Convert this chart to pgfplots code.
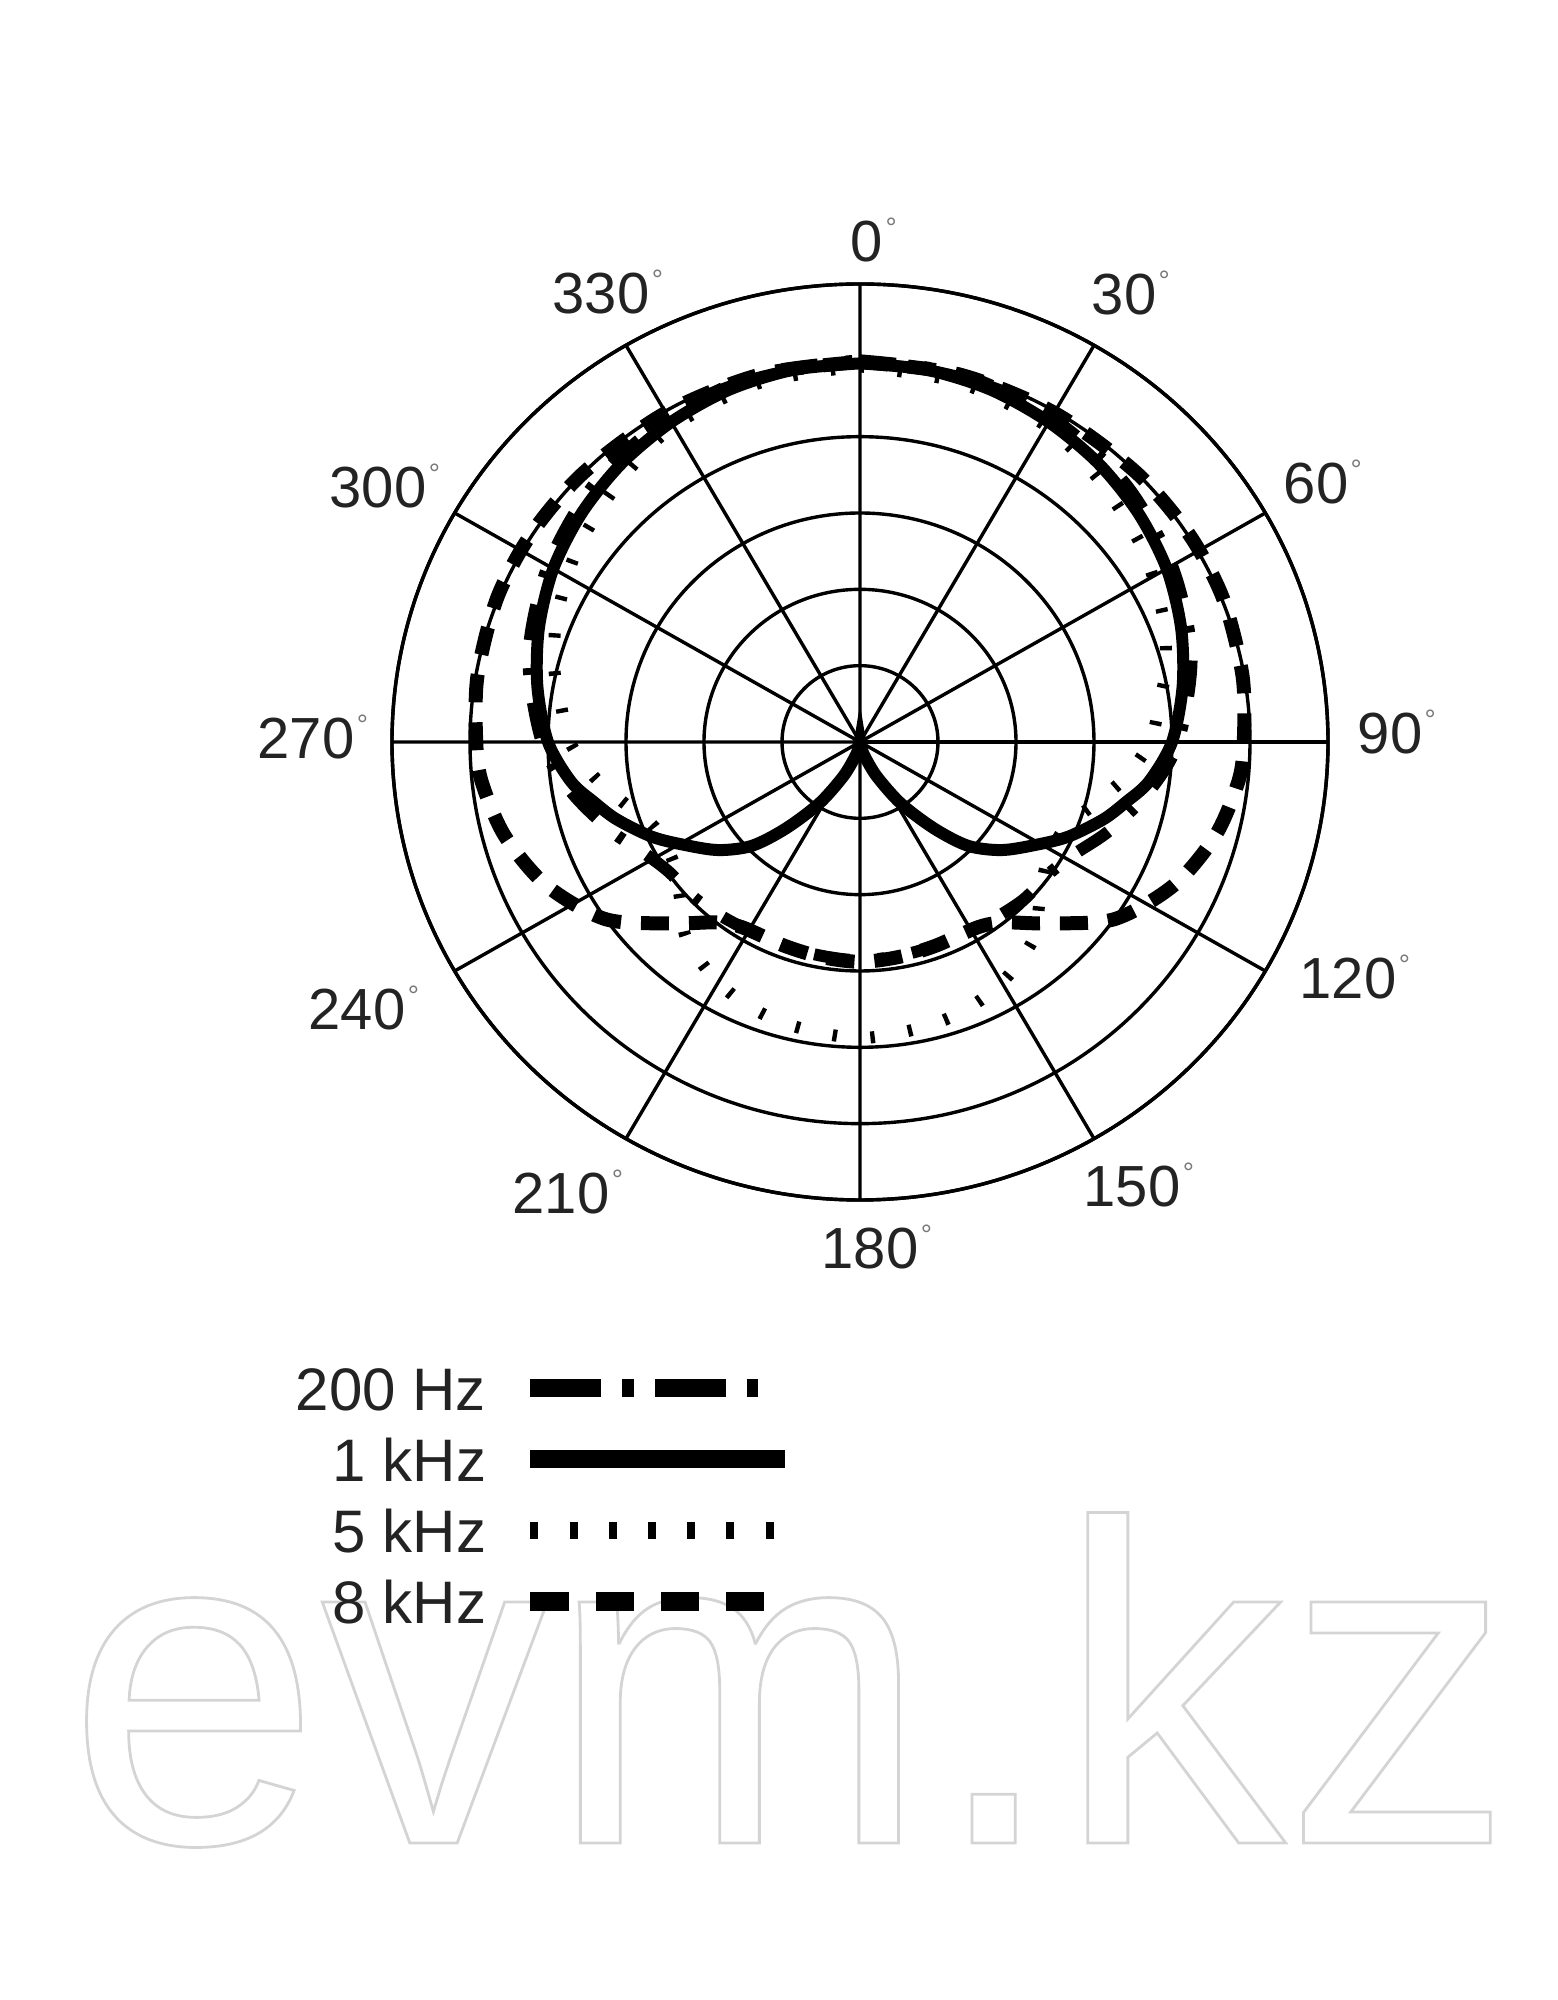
\documentclass[border=0pt]{standalone}
\usepackage{pgfplots}
\pgfplotsset{compat=1.18}
\usepgfplotslibrary{polar}
\usepackage{fontspec}
\setmainfont{Liberation Sans}
\definecolor{labelgray}{RGB}{35,35,35}
\definecolor{deggray}{RGB}{120,120,120}
\definecolor{wmgray}{RGB}{212,212,212}
\newcommand{\lbl}[1]{#1\rlap{\hspace{0.6pt}\raisebox{6pt}{\fontsize{7}{7}\selectfont\color{deggray}°}}}
\newcommand{\outl}[1]{\special{pdf:literal direct 1 Tr 0.7 w}#1\special{pdf:literal direct 0 Tr}}
\begin{document}
\begin{tikzpicture}
% watermark (two pieces, same line)
\node[anchor=base west, inner sep=0pt, text=wmgray, font=\fontsize{114}{114}\selectfont] (wm1) at (16.6pt,39.25pt)
  {\outl{evm}};
\node[anchor=base west, inner sep=0pt, text=wmgray, font=\fontsize{114}{114}\selectfont] at (wm1.base east)
  {\outl{.kz}};
\begin{polaraxis}[
  at={(215pt,314.5pt)}, anchor=center,
  scale only axis, width=234pt, height=229pt,
  ymin=0, ymax=30, xmin=0, xmax=360,
  xtick={0,30,...,330}, ytick={5,10,...,30},
  xticklabels={}, yticklabels={},
  major tick length=0pt,
  grid=major,
  major grid style={black, line width=0.85pt, solid},
  axis line style={black, line width=0.85pt},
  x filter/.expression={x<=90 ? 90-x : 450-x},
  clip=false,
  reverse legend,
  legend plot pos=right,
  legend cell align=right,
  legend style={at={(-0.1026,-0.1769)}, anchor=north west, draw=none, fill=none,
    inner sep=0pt, outer sep=0pt, column sep=8.8pt, row sep=0pt,
    font=\fontsize{15}{15}\selectfont, text=labelgray,
    nodes={inner sep=0pt, text height=12pt, text depth=5.75pt}},
]
% 8 kHz
\addplot[black, line width=3.5pt, dash pattern=on 7pt off 5pt, smooth, no markers,
  legend image code/.code={\draw[black,line width=4.6pt,dash pattern=on 9.6pt off 6.7pt] (0pt,2.3pt)--(58.5pt,2.3pt);}]
table {
a r
0 24.9
15 24.9
30 24.9
45 25.0
57 25.1
68 25.1
80 24.9
90 24.6
96 24.4
105 23.6
115 22.2
125.5 20.0
135 16.8
142 15.0
148 14.3
160 14.2
170 14.3
180 14.4
190 14.3
200 14.2
212 14.3
218 15.0
225 16.8
234.5 20.0
245 22.2
255 23.6
264 24.4
270 24.6
280 24.9
292 25.1
303 25.1
315 25.0
330 24.9
345 24.9
360 24.9
};
\addlegendentry{8 kHz}
% 5 kHz
\addplot[black, line width=3pt, dash pattern=on 1.1pt off 8.4pt, smooth, no markers,
  legend image code/.code={\draw[black,line width=4.2pt,dash pattern=on 2pt off 7.8pt] (0pt,2.3pt)--(60.8pt,2.3pt);}]
table {
a r
0 24.6
15 24.4
30 23.9
42 23.0
55 22.1
67 21.1
76 20.2
83 19.3
90 18.6
97.6 17.2
105 15.6
113 14.3
123 14.3
132 15.5
139 17.0
148 18.0
155.6 18.6
163.5 19.0
171.5 19.2
180 19.4
188.5 19.2
196.5 19.0
204.4 18.6
212 18.0
221 17.0
228 15.5
237 14.3
247 14.3
255 15.6
262.4 17.2
270 18.6
277 19.3
284 20.2
293 21.1
305 22.1
318 23.0
330 23.9
345 24.4
360 24.6
};
\addlegendentry{5 kHz}
% 1 kHz
\addplot[black, line width=3pt, smooth, no markers,
  legend image code/.code={\draw[black,line width=4.5pt] (0pt,2.3pt)--(63.7pt,2.3pt);}]
table {
a r
0 24.8
10 24.75
20 24.55
30 24.2
40 23.8
50 23.3
60 22.7
70 21.9
80 21.0
90 20.0
98 18.7
103 17.5
108 16.4
115 14.7
121 13.1
128 11.5
134.5 9.7
140 7.4
147 4.8
154.5 2.5
162 1.0
170 0.3
180 0
190 0.3
198 1.0
205.5 2.5
213 4.8
220 7.4
225.5 9.7
232 11.5
239 13.1
245 14.7
252 16.4
257 17.5
262 18.7
270 20.0
280 21.0
290 21.9
300 22.7
310 23.3
320 23.8
330 24.2
340 24.55
350 24.75
360 24.8
};
\addlegendentry{1 kHz}
% 200 Hz
\addplot[black, line width=3pt, dash pattern=on 9pt off 7pt on 1.7pt off 7pt, smooth, no markers,
  legend image code/.code={\draw[black,line width=4.5pt,dash pattern=on 17.7pt off 5.3pt on 2.9pt off 5.2pt] (0pt,2.3pt)--(57pt,2.3pt);}]
table {
a r
0 25.0
15 24.95
30 24.55
45 24.0
60 23.1
75 22.0
90 20.4
100 18.8
110 17.0
118 15.6
125 14.9
135 14.7
148 14.3
165 14.2
180 14.3
195 14.2
212 14.3
225 14.7
235 14.9
242 15.6
250 17.0
260 18.8
270 20.4
285 22.0
300 23.1
315 24.0
330 24.55
345 24.95
360 25.0
};
\addlegendentry{200 Hz}
\end{polaraxis}
% angle labels
\begin{scope}[every node/.style={text=labelgray, font=\fontsize{14.5}{14.5}\selectfont, inner sep=0pt, anchor=center}]
\node at (216.75pt,440pt) {\lbl{0}};
\node at (281pt,426.75pt) {\lbl{30}};
\node at (329pt,379.5pt) {\lbl{60}};
\node at (347.5pt,317pt) {\lbl{90}};
\node at (337pt,255.75pt) {\lbl{120}};
\node at (283pt,203.75pt) {\lbl{150}};
\node at (217.5pt,188.25pt) {\lbl{180}};
\node at (140.25pt,202pt) {\lbl{210}};
\node at (89.25pt,248pt) {\lbl{240}};
\node at (76.5pt,315.75pt) {\lbl{270}};
\node at (94.5pt,378.5pt) {\lbl{300}};
\node at (150.25pt,427pt) {\lbl{330}};
\end{scope}
\pgfresetboundingbox
\useasboundingbox (0,0) rectangle (389.25pt,500pt);
\end{tikzpicture}
\end{document}
